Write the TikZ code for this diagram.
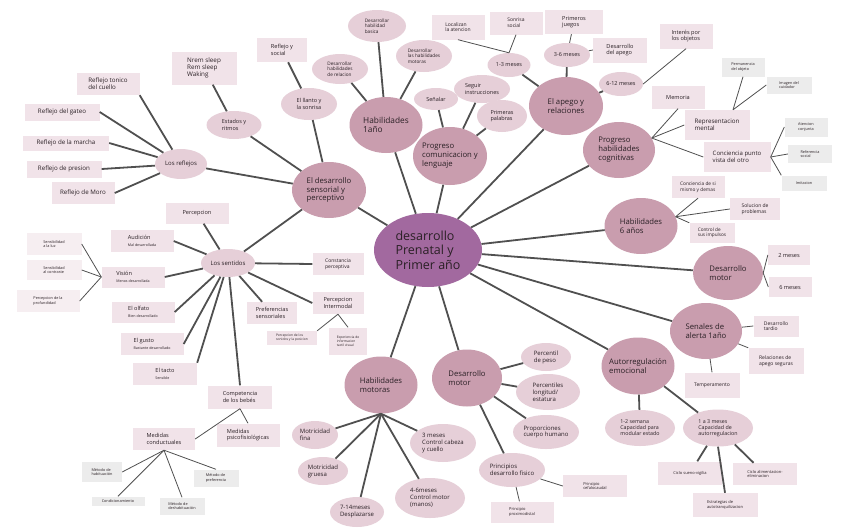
\documentclass[tikz,border=0pt]{standalone}
\usepackage{fontspec}
\setmainfont{Open Sans}
\usetikzlibrary{shapes.geometric}
\definecolor{cdark}{HTML}{C99DAE}
\definecolor{clight}{HTML}{E6CFD8}
\definecolor{crect}{HTML}{F1E3E9}
\definecolor{cpale}{HTML}{F6EEF1}
\definecolor{cgrey}{HTML}{ECECEC}
\definecolor{ccenter}{HTML}{A2699F}
\definecolor{cline}{HTML}{505050}
\definecolor{ctext}{HTML}{2A2025}
\newcommand{\fsz}[1]{\fontsize{#1}{1.15\dimexpr#1pt\relax}\selectfont}
\begin{document}
\begin{tikzpicture}[x=1pt,y=-1pt,
  dk/.style={ellipse, fill=cdark, inner sep=-3pt, align=left, text=ctext, font=\fsz{7.7}},
  lt/.style={ellipse, fill=clight, inner sep=-2pt, align=left, text=ctext, font=\fsz{5.5}},
  bx/.style={rectangle, fill=crect, inner sep=1pt, align=left, text=ctext, font=\fsz{5.6}},
  pb/.style={rectangle, fill=cpale, inner sep=1pt, align=left, text=ctext, font=\fsz{3.8}},
  gb/.style={rectangle, fill=cgrey, inner sep=1pt, align=left, text=ctext, font=\fsz{3.8}},
  thk/.style={draw=cline, line width=1.8pt},
  thn/.style={draw=cline, line width=0.8pt},
  sz/.style 2 args={minimum width=#1, minimum height=#2}]
\useasboundingbox (0,0) rectangle (848,530);
\fill[white] (0,0) rectangle (848,530);

% ---------- nodes ----------
\node[ellipse, fill=ccenter, inner sep=-6pt, sz={108}{74}, align=left, text=ctext, font=\fsz{12.5}] (cen) at (428,250) {desarrollo\\Prenatal y\\Primer año};

\node[dk, sz={74}{56}] (eds) at (329,190) {El desarrollo\\sensorial y\\perceptivo};
\node[dk, sz={73}{56}, font=\fsz{8.3}] (h1) at (386,125) {Habilidades\\1año};
\node[dk, sz={74}{58}] (pcl) at (450,156) {Progreso\\comunicacion y\\lenguaje};
\node[dk, sz={74}{58}] (apego) at (566,106) {El apego y\\relaciones};
\node[dk, sz={72}{56}] (phc) at (619,150) {Progreso\\habilidades\\cognitivas};
\node[dk, sz={73}{56}] (h6) at (641,226) {Habilidades\\6 años};
\node[dk, sz={70}{54}] (dmr) at (728,273) {Desarrollo\\motor};
\node[dk, sz={72}{56}] (sal) at (706,331) {Senales de\\alerta 1año};
\node[dk, sz={73}{57}] (aut) at (638,366) {Autorregulación\\emocional};
\node[dk, sz={70}{57}] (dmb) at (467,378) {Desarrollo\\motor};
\node[dk, sz={73}{57}] (hm) at (381,385) {Habilidades\\motoras};

\node[lt, sz={54}{28}, font=\fsz{6}] (sent) at (228,263) {Los sentidos};
\node[lt, sz={52}{30}, font=\fsz{6}] (refl) at (181,164) {Los reflejos};
\node[lt, sz={55}{28}] (est) at (234,125) {Estados y\\ritmos};
\node[lt, sz={56}{32}] (llan) at (309,104) {El llanto y\\la sonrisa};
\node[lt, sz={56}{30}, font=\fsz{4.7}] (dhr) at (340,69) {Desarrollar\\habilidades\\de relacion};
\node[lt, sz={58}{32}, font=\fsz{4.7}] (dhb) at (377,26) {Desarrollar\\habilidad\\basica};
\node[lt, sz={56}{32}, font=\fsz{4.7}] (dhm) at (424,56) {Desarrollar\\las habilidades\\motoras};
\node[lt, sz={44}{22}] (sen) at (436,99) {Señalar};
\node[lt, sz={56}{28}] (seg) at (482,89) {Seguir\\instrucciones};
\node[lt, sz={50}{32}] (prp) at (502,116) {Primeras\\palabras};
\node[lt, sz={43}{24}] (m13) at (509,65) {1-3 meses};
\node[lt, sz={46}{24}] (m36) at (567,55) {3-6 meses};
\node[lt, sz={44}{24}] (m612) at (621,84) {6-12 meses};
\node[lt, sz={50}{28}, font=\fsz{6}] (pp) at (546,357) {Percentil\\de peso};
\node[lt, sz={64}{36}, font=\fsz{6}] (pl) at (548,392) {Percentiles\\longitud/\\estatura};
\node[lt, sz={66}{34}, font=\fsz{6}] (pch) at (546,432) {Proporciones\\cuerpo humano};
\node[lt, sz={66}{34}, font=\fsz{6}] (pdf) at (512,470) {Principios\\desarrollo fisico};
\node[lt, sz={46}{28}, font=\fsz{6}] (mf) at (315,435) {Motricidad\\fina};
\node[lt, sz={50}{28}, font=\fsz{6}] (mg) at (323,471) {Motricidad\\gruesa};
\node[lt, sz={66}{38}, font=\fsz{6}] (m3) at (443,443) {3 meses\\Control cabeza\\y cuello};
\node[lt, sz={70}{40}, font=\fsz{6}] (m46) at (430,498) {4-6meses\\Control motor\\(manos)};
\node[lt, sz={54}{30}, font=\fsz{6}] (m714) at (357,512) {7-14meses\\Desplazarse};
\node[lt, sz={70}{36}, font=\fsz{5.3}] (s12) at (640,428) {1-2 semana\\Capacidad para\\modular estado};
\node[lt, sz={70}{37}, font=\fsz{5.3}] (a13) at (718,428) {1 a 3 meses\\Capacidad de\\autorregulacion};

\node[bx, sz={65}{33}, font=\fsz{6.3}] (nrem) at (204,68) {Nrem sleep\\Rem sleep\\Waking};
\node[bx, sz={63}{22}, font=\fsz{6.2}] (rtc) at (108,84) {Reflejo tonico\\del cuello};
\node[bx, sz={75}{17}, font=\fsz{6.2}] (rg) at (62,112) {Reflejo del gateo};
\node[bx, sz={86}{15}, font=\fsz{6.2}] (rm) at (66,143) {Reflejo de la marcha};
\node[bx, sz={75}{17}, font=\fsz{6.2}] (rp) at (64,169) {Reflejo de presion};
\node[bx, sz={63}{22}, font=\fsz{6.2}] (rmo) at (83,193) {Reflejo de Moro};
\node[bx, sz={50}{24}] (rys) at (282,50) {Reflejo y\\social};
\node[bx, sz={53}{25}, font=\fsz{5}] (loc) at (458,27) {Localizan\\la atencion};
\node[bx, sz={53}{23}, font=\fsz{5}] (sso) at (516,23) {Sonrisa\\social};
\node[bx, sz={58}{24}] (pju) at (574,22) {Primeros\\juegos};
\node[bx, sz={54}{25}] (dap) at (620,50) {Desarrollo\\del apego};
\node[bx, sz={53}{25}] (int) at (686,36) {Interés por\\los objetos};
\node[bx, sz={53}{23}] (mem) at (678,97) {Memoria};
\node[bx, sz={65}{30}, font=\fsz{6.2}] (rep) at (717,125) {Representacion\\mental};
\node[bx, sz={67}{30}, font=\fsz{6}] (cpv) at (737,157) {Conciencia punto\\vista del otro};
\node[bx, sz={53}{22}, font=\fsz{4.8}] (csm) at (698,187) {Conciencia de si\\mismo y demas};
\node[bx, sz={50}{22}, font=\fsz{5}] (sol) at (755,209) {Solucion de\\problemas};
\node[bx, sz={45}{20}, font=\fsz{4.7}] (csi) at (712,233) {Control de\\sus impulsos};
\node[bx, sz={42}{20}] (dos) at (789,255) {2 meses};
\node[bx, sz={43}{20}] (seis) at (790,287) {6 meses};
\node[bx, sz={45}{21}, font=\fsz{5}] (dta) at (776,326) {Desarrollo\\tardio};
\node[bx, sz={55}{26}, font=\fsz{5}] (rap) at (776,361) {Relaciones de\\apego seguras};
\node[bx, sz={55}{25}, font=\fsz{5}] (tem) at (712,385) {Temperamento};
\node[bx, sz={64}{23}, font=\fsz{4}] (csv) at (690,473) {Ciclo sueno-vigilia};
\node[bx, sz={64}{22}, font=\fsz{4}] (cae) at (765,474) {Ciclo alimentacion-\\eliminacion};
\node[bx, sz={65}{24}, font=\fsz{4}] (eat) at (725,505) {Estrategias de\\autotranquilizacion};
\node[bx, sz={64}{22}, font=\fsz{4}] (pcc) at (595,486) {Principio\\cefalocaudal};
\node[bx, sz={63}{21}, font=\fsz{4}] (ppx) at (522,512) {Principio\\proximodistal};
\node[bx, sz={51}{22}, font=\fsz{5}] (cpe) at (338,264) {Constancia\\perceptiva};
\node[bx, sz={51}{22}] (pin) at (338,303) {Percepcion\\Intermodal};
\node[bx, sz={50}{22}] (pse) at (272,313) {Preferencias\\sensoriales};
\node[bx, sz={50}{14}, font=\fsz{3.3}] (pds) at (292,338) {Percepcion de los\\sonidos y la posicion};
\node[bx, sz={38}{27}, font=\fsz{3.3}] (exp) at (348,341) {Experiencia de\\informacion\\tactil visual};
\node[bx, sz={63}{21}] (perc) at (197,213) {Percepcion};
\node[bx, sz={63}{22}] (aud) at (142,241) {Audición\\{\fsz{3.6}Mal desarrollada}};
\node[bx, sz={63}{21}] (vis) at (133,277) {Visión\\{\fsz{3.6}Menos desarrollada}};
\node[bx, sz={63}{21}] (olf) at (143,312) {El olfato\\{\fsz{3.6}Bien desarrollado}};
\node[bx, sz={63}{22}] (gus) at (152,344) {El gusto\\{\fsz{3.6}Bastante desarrollado}};
\node[bx, sz={64}{22}] (tac) at (165,374) {El tacto\\{\fsz{3.6}Sensible}};
\node[bx, sz={64}{23}] (cbb) at (240,397) {Competencia\\de los bebés};
\node[bx, sz={63}{23}] (mps) at (248,435) {Medidas\\psicofisiológicas};
\node[bx, sz={62}{22}] (mco) at (164,439) {Medidas\\conductuales};

\node[pb, sz={55}{22}] (slu) at (54,244) {Sensibilidad\\a la luz};
\node[pb, sz={55}{20}] (sco) at (54,270) {Sensibilidad\\al contraste};
\node[pb, sz={63}{22}] (ppr) at (48,301) {Percepcion de la\\profundidad};

\node[gb, sz={40}{20}] (mha) at (102,472) {Método de\\habituación};
\node[gb, sz={53}{9}] (con) at (118,501) {Condicionamiento};
\node[gb, sz={45}{17}] (mde) at (182,506) {Método de\\deshabituación};
\node[gb, sz={45}{17}] (mpr) at (216,478) {Método de\\preferencia};
\node[gb, sz={43}{19}] (pob) at (743,67) {Permanencia\\del objeto};
\node[gb, sz={45}{17}] (icu) at (789,85) {Imagen del\\cuidador};
\node[gb, sz={43}{19}] (acj) at (806,127) {Atencion\\conjunta};
\node[gb, sz={44}{18}] (rso) at (810,154) {Referencia\\social};
\node[gb, sz={45}{15}] (imi) at (804,183) {Imitacion};

% ---------- connectors ----------
\foreach \n in {eds,h1,pcl,apego,phc,h6,dmr,sal,aut,dmb,hm}
  \draw[thk] (cen) -- (\n);
\foreach \n in {refl,est,llan,sent}
  \draw[thk] (eds) -- (\n);
\draw[thk] (est) -- (nrem);
\draw[thk] (llan) -- (rys);
\draw[thk] (refl) -- (rtc.south east);
\draw[thk] (refl) -- (rg.east);
\draw[thk] (refl) -- (rm.east);
\draw[thk] (refl) -- (rp.east);
\draw[thk] (refl) -- (rmo.east);
\draw[thk] (sent) -- (perc);
\draw[thk] (sent) -- (aud.east);
\draw[thk] (sent) -- (vis.east);
\draw[thk] (sent) -- (olf.east);
\draw[thk] (sent) -- (gus.east);
\draw[thk] (sent) -- (tac.north east);
\draw[thk] (sent) -- (cbb.north);
\draw[thk] (sent) -- (pse);
\draw[thk] (sent) -- (cpe.west);
\draw[thk] (sent) -- (pin.west);
\draw[thn] (vis.west) -- (slu.east);
\draw[thn] (vis.west) -- (sco.east);
\draw[thn] (vis.west) -- (ppr.east);
\draw[thn] (pin.south) -- (pds.north east);
\draw[thn] (pin.south) -- (exp.north);
\draw[thn] (cbb.south) -- (mco.east);
\draw[thn] (cbb.south) -- (mps.north);
\draw[thn] (mco.south) -- (mha.east);
\draw[thn] (mco.south) -- (con.north);
\draw[thn] (mco.south) -- (mde.north);
\draw[thn] (mco.south) -- (mpr.north);
\foreach \n in {dhr,dhb,dhm}
  \draw[thk] (h1) -- (\n);
\foreach \n in {sen,seg,prp}
  \draw[thk] (pcl) -- (\n);
\foreach \n in {m13,m36,m612}
  \draw[thk] (apego) -- (\n);
\draw[thn] (m13.north) -- (loc.south);
\draw[thn] (m13.north) -- (sso.south);
\draw[thn] (m36) -- (pju);
\draw[thn] (m36) -- (dap.west);
\draw[thn] (m612.east) -- (int.south);
\draw[thn] (phc.20) -- (mem.south);
\draw[thn] (phc.20) -- (rep.west);
\draw[thn] (phc.20) -- (cpv.west);
\draw[thn] ([xshift=16pt]rep.north) -- (pob.south);
\draw[thn] ([xshift=16pt]rep.north) -- (icu.west);
\draw[thn] (cpv.east) -- (acj.west);
\draw[thn] (cpv.east) -- (rso.west);
\draw[thn] (cpv.east) -- (imi.north west);
\draw[thn] (h6.15) -- (csm.south);
\draw[thn] (h6.15) -- (sol.west);
\draw[thn] (h6.15) -- (csi.north west);
\draw[thn] (dmr.east) -- (dos.west);
\draw[thn] (dmr.east) -- (seis.west);
\draw[thn] (sal) -- (dta.west);
\draw[thn] (sal) -- (rap.north west);
\draw[thn] (sal) -- (tem.north);
\draw[thk] (aut) -- (s12);
\draw[thk] (aut) -- (a13);
\draw[thk] (a13) -- (csv);
\draw[thk] (a13.south) -- (eat.north);
\draw[thk] (a13) -- (cae);
\foreach \n in {pp,pl,pch,pdf}
  \draw[thk] (dmb) -- (\n);
\draw[thn] (pdf) -- (pcc.west);
\draw[thn] (pdf) -- (ppx);
\foreach \n in {mf,mg,m714,m46,m3}
  \draw[thk] (hm.south) -- (\n);
\end{tikzpicture}
\end{document}
